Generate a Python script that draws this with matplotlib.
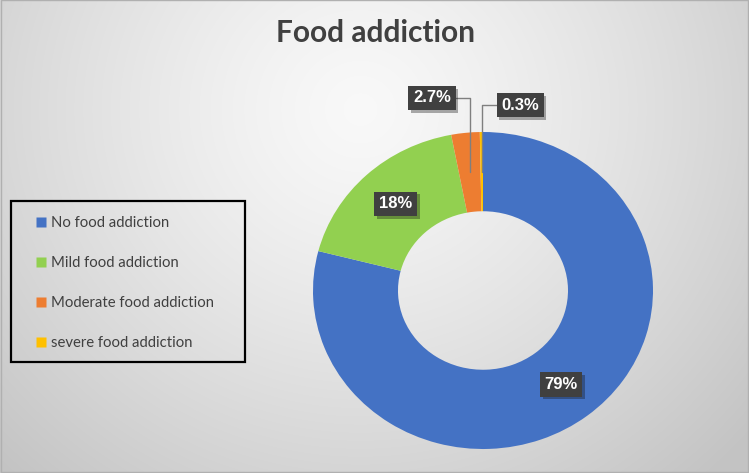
import numpy as np
import matplotlib
matplotlib.use("Agg")
import matplotlib.pyplot as plt
import matplotlib.patheffects as pe
from matplotlib.lines import Line2D
from matplotlib.patches import Rectangle

# data
categories = ["No food addiction", "Mild food addiction",
              "Moderate food addiction", "severe food addiction"]
values = [79, 18, 2.7, 0.3]
labels = ["79%", "18%", "2.7%", "0.3%"]
colors = ["#4472C4", "#92D050", "#ED7D31", "#FFC000"]

W, H = 749, 473
fig = plt.figure(figsize=(W / 100, H / 100), dpi=100)

# radial gray gradient background
bg = fig.add_axes([0, 0, 1, 1])
yy, xx = np.mgrid[0:H, 0:W]
d = np.hypot(xx - 360, (yy - 110) * 1.05) / 520
shade = 0.975 - 0.21 * np.clip(d, 0, 1) ** 1.3
bg.imshow(np.dstack([shade] * 3), extent=[0, W, H, 0], aspect="auto")
bg.add_patch(Rectangle((0.5, 0.5), W - 1.5, H - 1.5, fill=False,
                       edgecolor="#b0b0b0", lw=1))
bg.set_xlim(0, W)
bg.set_ylim(H, 0)
bg.axis("off")

fig.text(375 / W, 1 - 33 / H, "Food addiction", ha="center", va="center",
         fontsize=21.5, fontweight="bold", family="Lato", color="#404040")

# donut (slightly wider than tall, like the original)
cx, cy, rx, ry = 483, 290.5, 170, 158.5
ax = fig.add_axes([(cx - rx) / W, (H - cy - ry) / H, 2 * rx / W, 2 * ry / H])
wedges, _ = ax.pie(values, colors=colors, startangle=90, counterclock=False,
                   radius=1, wedgeprops=dict(width=0.5, linewidth=0))
ax.set_aspect("auto")
ax.set_xlim(-1, 1)
ax.set_ylim(-1, 1)

# data labels
text_offsets = [None, None, (-0.30, 1.215), (0.218, 1.17)]
box = dict(boxstyle="square,pad=0.28", fc="#404040", ec="none")
for w, lab, off in zip(wedges, labels, text_offsets):
    ang = np.deg2rad((w.theta1 + w.theta2) / 2)
    px, py = 0.75 * np.cos(ang), 0.75 * np.sin(ang)
    if off is None:
        t = ax.text(px, py, lab, ha="center", va="center", color="white",
                    fontsize=12, fontweight="bold", family="Liberation Sans",
                    bbox=box)
    else:
        t = ax.annotate(lab, xy=(px, py), xytext=off, ha="center", va="center",
                        color="white", fontsize=12, fontweight="bold",
                        family="Liberation Sans", bbox=box,
                        arrowprops=dict(arrowstyle="-", color="#7f7f7f", lw=1,
                                        shrinkA=0, shrinkB=0,
                                        connectionstyle="angle,angleA=0,angleB=90,rad=0"))
    t.get_bbox_patch().set_path_effects(
        [pe.SimplePatchShadow(offset=(2, -2), alpha=0.35), pe.Normal()])

# legend with black frame
fig.add_artist(Rectangle((10.5 / W, 1 - 362 / H), 234 / W, 161 / H,
                         transform=fig.transFigure, fill=False,
                         edgecolor="black", lw=1.6))
handles = [Line2D([], [], marker="s", linestyle="none", markersize=6.5,
                  markerfacecolor=c, markeredgecolor="none") for c in colors]
fig.legend(handles, categories, loc="upper left",
           bbox_to_anchor=(35 / W, 1 - 216 / H), frameon=False,
           prop=dict(family="Lato", size=10.7), labelcolor="#404040",
           handlelength=0.8, handletextpad=0.25, labelspacing=1.75,
           borderpad=0, borderaxespad=0)

fig.savefig("out.png", dpi=100)
